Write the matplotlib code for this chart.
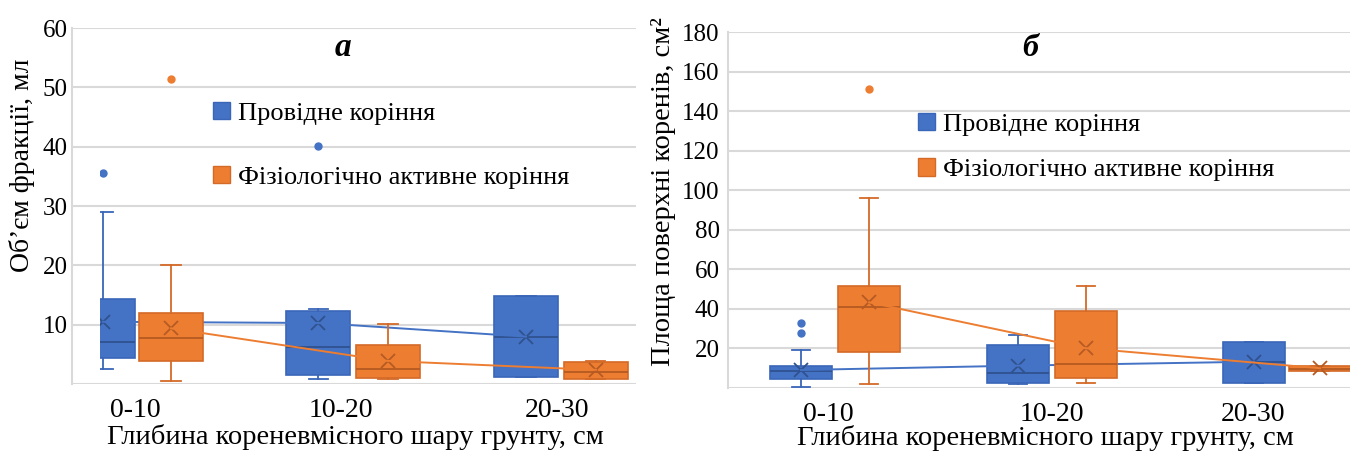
import matplotlib
matplotlib.use("Agg")
import matplotlib.pyplot as plt
from matplotlib.patches import Patch, Rectangle

plt.rcParams['font.family'] = ['Liberation Serif', 'DejaVu Serif']

depth_labels = ['0-10', '10-20', '20-30']
series_names = ['Провідне коріння', 'Фізіологічно активне коріння']

# Panel a: fraction volume, ml
vol_cond_low = [2.5, 0.8, 1.2]
vol_cond_q1 = [4.4, 1.6, 1.2]
vol_cond_med = [7.1, 6.3, 8.0]
vol_cond_q3 = [14.3, 12.4, 14.9]
vol_cond_high = [29.0, 12.6, 14.9]
vol_cond_mean = [10.5, 10.3, 8.0]
vol_cond_out = [[35.6], [40.2], []]

vol_act_low = [0.5, 0.8, 0.8]
vol_act_q1 = [3.9, 1.1, 0.8]
vol_act_med = [7.7, 2.5, 2.0]
vol_act_q3 = [12.0, 6.6, 3.8]
vol_act_high = [20.0, 10.2, 3.9]
vol_act_mean = [9.4, 3.9, 2.4]
vol_act_out = [[51.4], [], []]

# Panel b: root surface area, cm2
area_cond_low = [0.7, 1.9, 2.7]
area_cond_q1 = [4.4, 2.4, 2.7]
area_cond_med = [8.6, 7.7, 13.3]
area_cond_q3 = [11.3, 21.7, 23.4]
area_cond_high = [19.2, 26.8, 23.4]
area_cond_mean = [9.1, 11.3, 13.3]
area_cond_out = [[27.6, 32.7], [], []]

area_act_low = [1.9, 2.7, 8.6]
area_act_q1 = [18.0, 5.2, 8.6]
area_act_med = [40.8, 12.0, 9.6]
area_act_q3 = [51.7, 38.9, 11.3]
area_act_high = [95.9, 51.7, 11.3]
area_act_mean = [43.3, 20.1, 10.0]
area_act_out = [[151.0], [], []]

BLUE = '#4472C4'
ORANGE = '#ED7D31'
BLUE_EDGE = '#3A66B8'
ORANGE_EDGE = '#D46A28'
BLUE_DARK = '#2F528F'
ORANGE_DARK = '#B55A22'
GRID = '#D9D9D9'
YTICK_FS = 18
XTICK_FS = 20
XLABEL_FS = 20.5
LEGEND_FS = 19


def make_stats(low, q1, med, q3, high, mean, out):
    return [dict(whislo=a, q1=b, med=c, q3=d, whishi=e, mean=f, fliers=g)
            for a, b, c, d, e, f, g in zip(low, q1, med, q3, high, mean, out)]


def draw_series(ax, stats, means, pos, width, face, edge, dark, z):
    art = ax.bxp(stats, positions=pos, widths=width, patch_artist=True,
                 showmeans=True, showfliers=True, capwidths=width * 0.3,
                 manage_ticks=False, zorder=z,
                 boxprops=dict(facecolor=face, edgecolor=edge, linewidth=1.2),
                 whiskerprops=dict(color=edge, linewidth=1.3),
                 capprops=dict(color=edge, linewidth=1.3),
                 medianprops=dict(color=dark, linewidth=1.3),
                 meanprops=dict(marker='x', markeredgecolor=dark,
                                markersize=10, markeredgewidth=1.3),
                 flierprops=dict(marker='o', markerfacecolor=face,
                                 markeredgecolor=face, markersize=5))
    ax.plot(pos, means, color=face, lw=1.4, zorder=z + 0.15)
    return art


def style_axes(ax, ymax, step, xmax, tick_pos, ypad):
    ax.set_xlim(0, xmax)
    ax.set_ylim(0, ymax)
    ticks = list(range(0, ymax + 1, step))
    ax.set_yticks(ticks)
    ax.set_yticklabels(['' if t == 0 else str(t) for t in ticks])
    ax.yaxis.grid(True, color=GRID, lw=1.5)
    ax.set_axisbelow(True)
    for s in ['top', 'right', 'bottom']:
        ax.spines[s].set_visible(False)
    ax.spines['left'].set_color(GRID)
    ax.spines['left'].set_linewidth(1.5)
    ax.tick_params(axis='both', length=0)
    ax.tick_params(axis='y', pad=ypad, labelsize=YTICK_FS)
    ax.tick_params(axis='x', pad=10, labelsize=XTICK_FS)
    ax.set_xticks(tick_pos)
    ax.set_xticklabels(depth_labels)


def add_legend(ax, anchor, spacing):
    handles = [Patch(facecolor=BLUE, edgecolor=BLUE_EDGE),
               Patch(facecolor=ORANGE, edgecolor=ORANGE_EDGE)]
    ax.legend(handles, series_names, loc='upper left', bbox_to_anchor=anchor,
              frameon=False, fontsize=LEGEND_FS, handlelength=0.65,
              handleheight=0.65, handletextpad=0.3, labelspacing=spacing,
              borderpad=0, borderaxespad=0)


def side_label(ax, text, x, y, size):
    ax.text(x, y, text, transform=ax.transAxes, rotation=90, fontsize=size,
            ha='center', va='center')


fig = plt.figure(figsize=(13.59, 4.54), dpi=100)
ax_a = fig.add_axes([0.053, 0.154, 0.415, 0.784])
ax_b = fig.add_axes([0.5357, 0.1454, 0.4577, 0.784])

# ---- panel a ----
w_a = 0.308
pos_a_cond = [0.149, 1.185, 2.183]
pos_a_act = [0.476, 1.519, 2.519]
art = draw_series(ax_a, make_stats(vol_cond_low, vol_cond_q1, vol_cond_med,
                                   vol_cond_q3, vol_cond_high, vol_cond_mean,
                                   vol_cond_out),
                  vol_cond_mean, pos_a_cond, w_a, BLUE, BLUE_EDGE, BLUE_DARK, 2)
# the first conducting-root box is cut along its left side
clip = Rectangle((0.135, -100), 10, 1000, transform=ax_a.transData)
for key in ['boxes', 'medians', 'means', 'fliers']:
    art[key][0].set_clip_path(clip)
for key in ['whiskers', 'caps']:
    for a in art[key][:2]:
        a.set_clip_path(clip)
draw_series(ax_a, make_stats(vol_act_low, vol_act_q1, vol_act_med,
                             vol_act_q3, vol_act_high, vol_act_mean,
                             vol_act_out),
            vol_act_mean, pos_a_act, w_a, ORANGE, ORANGE_EDGE, ORANGE_DARK, 3)
style_axes(ax_a, 60, 10, 2.712, [0.303, 1.293, 2.332], 3)
side_label(ax_a, 'Об’єм фракції, мл', -0.0887, 0.615, 20)
ax_a.set_xlabel('Глибина кореневмісного шару грунту, см', fontsize=XLABEL_FS)
ax_a.xaxis.set_label_coords(0.502, -0.113)
ax_a.text(0.48, 0.947, 'а', transform=ax_a.transAxes, fontsize=24,
          fontweight='bold', fontstyle='italic', ha='center', va='center')
add_legend(ax_a, (0.25, 0.793), 1.54)

# ---- panel b ----
w_b = 0.286
pos_b_cond = [0.336, 1.336, 2.424]
pos_b_act = [0.650, 1.650, 2.728]
draw_series(ax_b, make_stats(area_cond_low, area_cond_q1, area_cond_med,
                             area_cond_q3, area_cond_high, area_cond_mean,
                             area_cond_out),
            area_cond_mean, pos_b_cond, w_b, BLUE, BLUE_EDGE, BLUE_DARK, 2)
draw_series(ax_b, make_stats(area_act_low, area_act_q1, area_act_med,
                             area_act_q3, area_act_high, area_act_mean,
                             area_act_out),
            area_act_mean, pos_b_act, w_b, ORANGE, ORANGE_EDGE, ORANGE_DARK, 3)
style_axes(ax_b, 180, 20, 2.866, [0.461, 1.493, 2.419], 6)
side_label(ax_b, 'Площа поверхні коренів, см²', -0.1045, 0.553, 20.5)
ax_b.set_xlabel('Глибина кореневмісного шару грунту, см', fontsize=XLABEL_FS)
ax_b.xaxis.set_label_coords(0.51, -0.105)
ax_b.text(0.486, 0.955, 'б', transform=ax_b.transAxes, fontsize=23,
          fontweight='bold', fontstyle='italic', ha='center', va='center')
add_legend(ax_b, (0.305, 0.773), 0.85)

fig.savefig('out.png', dpi=100)
